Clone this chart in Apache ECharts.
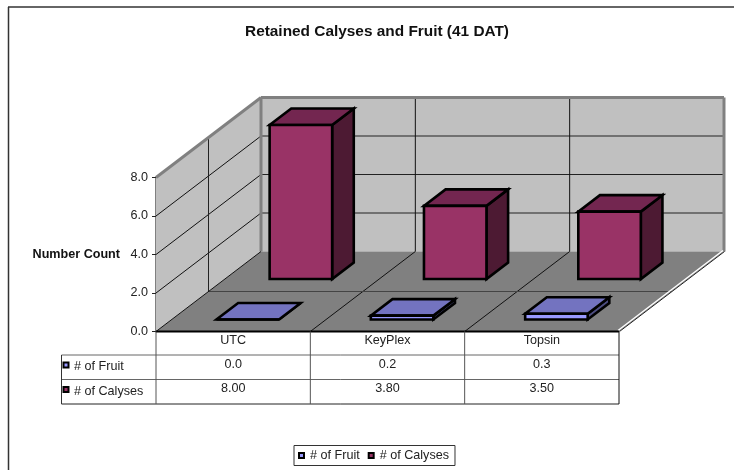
<!DOCTYPE html>
<html>
<head>
<meta charset="utf-8">
<title>Retained Calyses and Fruit</title>
<script src="https://cdn.jsdelivr.net/npm/echarts@6/dist/echarts.min.js"></script>
<style>
  html, body { margin: 0; padding: 0; background: #fff; }
  #main { width: 734px; height: 470px; }
</style>
</head>
<body>
<div id="main"></div>
<script>
const categories = ['UTC', 'KeyPlex', 'Topsin'];
const fruitCounts = [0.0, 0.2, 0.3];
const calyxCounts = [8.0, 3.8, 3.5];
const fruitLabels = ['0.0', '0.2', '0.3'];
const calyxLabels = ['8.00', '3.80', '3.50'];
const fruitName = '# of Fruit';
const calyxName = '# of Calyses';
const yTicks = [0, 2, 4, 6, 8];

const FONT = '"Liberation Sans", Arial, sans-serif';
const TEXT_SIZE = 12.6;
const DEPTH_X = 105;
const DEPTH_Y = -80;

// front plane comes from the axes, depth is a fixed oblique shift
const project = (api, x, y, d) => {
  const p = api.coord([x, y]);
  return [p[0] + d * DEPTH_X, p[1] + d * DEPTH_Y];
};

const poly = (points, fill, z2, stroke, lineWidth) => ({
  type: 'polygon',
  z2: z2,
  shape: { points: points },
  style: { fill: fill, stroke: stroke || null, lineWidth: lineWidth || 0, lineJoin: 'miter' }
});

const line = (a, b, stroke, lineWidth, z2) => ({
  type: 'line',
  z2: z2,
  shape: { x1: a[0], y1: a[1], x2: b[0], y2: b[1] },
  style: { stroke: stroke, lineWidth: lineWidth }
});

const label = (text, x, y, align) => ({
  type: 'text',
  z2: 20,
  style: { text: text, x: x, y: y, align: align || 'center', verticalAlign: 'middle', font: TEXT_SIZE + 'px ' + FONT, fill: '#222' }
});

// walls, floor and gridlines
const renderChamber = (params, api) => {
  const xMax = categories.length;
  const yMax = yTicks[yTicks.length - 1];
  const P = (x, y, d) => project(api, x, y, d);
  const kids = [
    poly([P(0, 0, 0), P(0, yMax, 0), P(0, yMax, 1), P(0, 0, 1)], '#c0c0c0', 1),
    poly([P(0, 0, 1), P(0, yMax, 1), P(xMax, yMax, 1), P(xMax, 0, 1)], '#c0c0c0', 1),
    poly([P(0, 0, 0), P(0, 0, 1), P(xMax, 0, 1), P(xMax, 0, 0)], '#808080', 2)
  ];
  yTicks.slice(1, -1).forEach(v => {
    kids.push(line(P(0, v, 0), P(0, v, 1), '#111', 1, 3));
    kids.push(line(P(0, v, 1), P(xMax, v, 1), '#222', 1, 3));
  });
  for (let i = 1; i < xMax; i++) {
    kids.push(line(P(i, 0, 1), P(i, yMax, 1), '#111', 1, 3));
    kids.push(line(P(i, 0, 0), P(i, 0, 1), '#111', 1, 3));
  }
  // mid depth lines between the two rows
  kids.push(line(P(0, 0, 0.5), P(0, yMax, 0.5), '#222', 1, 3));
  kids.push(line(P(0, 0, 0.5), P(xMax, 0, 0.5), '#444', 1, 3));
  // wall edges
  kids.push(line(P(0, yMax, 0), P(0, yMax, 1), '#808080', 3, 4));
  kids.push(line(P(0, yMax, 1), P(xMax, yMax, 1), '#808080', 3, 4));
  kids.push(line(P(xMax, yMax, 1), P(xMax, 0, 1), '#808080', 3, 4));
  kids.push(line(P(0, 0, 1), P(0, yMax, 1), '#808080', 3, 4));
  kids.push(line(P(0, 0, 0), P(0, 0, 1), '#111', 1, 5));
  const r0 = P(xMax, 0, 0);
  const r1 = P(xMax, 0, 1);
  kids.push(line([r0[0] - 1, r0[1] - 1], [r1[0] - 1, r1[1] - 1], '#fff', 1.5, 5));
  kids.push(line([r0[0] + 0.5, r0[1]], [r1[0] + 0.5, r1[1]], '#222', 1, 5));
  return { type: 'group', children: kids };
};

// one oblique box, d0..d1 is the row it stands in
const boxRenderer = (d0, d1, front, top, side) => (params, api) => {
  const i = api.value(0);
  const v = api.value(1);
  const x0 = i + 0.29;
  const x1 = i + 0.695;
  const P = (x, y, d) => project(api, x, y, d);
  const edge = '#000';
  const w = 2.6;
  return {
    type: 'group',
    children: [
      poly([P(x1, 0, d0), P(x1, v, d0), P(x1, v, d1), P(x1, 0, d1)], side, 1, edge, w),
      poly([P(x0, v, d0), P(x1, v, d0), P(x1, v, d1), P(x0, v, d1)], top, 2, edge, w),
      poly([P(x0, 0, d0), P(x1, 0, d0), P(x1, v, d0), P(x0, v, d0)], front, 3, edge, w)
    ]
  };
};

// data table under the floor
const renderTable = (params, api) => {
  const xMax = categories.length;
  const x = i => api.coord([i, 0])[0];
  const top = api.coord([0, 0])[1];
  const rowY = [top, top + 23.5, top + 48, top + 72.5];
  const left = 61.5;
  const kids = [];
  kids.push(line([x(0), rowY[0]], [x(xMax), rowY[0]], '#000', 2, 6));
  rowY.slice(1).forEach(y => {
    kids.push(line([left, y], [x(xMax), y], y === rowY[3] ? '#222' : '#666', 1, 6));
  });
  kids.push(line([left, rowY[1]], [left, rowY[3]], '#333', 1, 6));
  for (let i = 0; i <= xMax; i++) {
    kids.push(line([x(i), rowY[0]], [x(i), rowY[3]], i === xMax ? '#111' : '#555', 1, 6));
  }
  categories.forEach((c, i) => {
    const cx = api.coord([i + 0.5, 0])[0];
    kids.push(label(c, cx, rowY[0] + 9));
    kids.push(label(fruitLabels[i], cx, rowY[1] + 10));
    kids.push(label(calyxLabels[i], cx, rowY[2] + 9.5));
  });
  kids.push(label(fruitName, 74, rowY[1] + 12, 'left'));
  kids.push(label(calyxName, 74, rowY[2] + 12, 'left'));
  [[fruitName, '#9999ff', 1], [calyxName, '#993366', 2]].forEach(r => {
    kids.push({
      type: 'rect',
      z2: 7,
      shape: { x: 63.5, y: rowY[r[2]] + 7.5, width: 5, height: 5 },
      style: { fill: r[1], stroke: '#000', lineWidth: 2 }
    });
  });
  return { type: 'group', children: kids };
};

const chart = echarts.init(document.getElementById('main'));
const option = {
  animation: false,
  backgroundColor: '#fff',
  textStyle: { fontFamily: FONT },
  title: {
    text: 'Retained Calyses and Fruit (41 DAT)',
    left: 372,
    top: 19,
    textAlign: 'center',
    textStyle: { fontSize: 15.4, fontWeight: 'bold', color: '#111', fontFamily: FONT }
  },
  grid: { left: 156, right: 115, top: 177.5, bottom: 138.5, outerBoundsMode: 'none' },
  xAxis: { type: 'value', min: 0, max: categories.length, show: false },
  yAxis: {
    type: 'value',
    min: 0,
    max: 8,
    interval: 2,
    splitLine: { show: false },
    axisLine: { show: true, lineStyle: { color: '#808080', width: 2 } },
    axisTick: { show: true, length: 4, lineStyle: { color: '#222', width: 1 } },
    axisLabel: {
      color: '#222',
      fontSize: TEXT_SIZE,
      fontFamily: FONT,
      margin: 8,
      padding: [0, 0, 5, 0],
      formatter: v => v.toFixed(1)
    },
    name: 'Number Count',
    nameLocation: 'middle',
    nameRotate: 0,
    nameGap: 36,
    nameTextStyle: { color: '#111', fontSize: TEXT_SIZE, fontWeight: 'bold', fontFamily: FONT, padding: [0, 0, 3, 0] }
  },
  legend: {
    left: 294,
    top: 445.5,
    orient: 'horizontal',
    padding: [3.5, 6, 3.5, 4],
    itemGap: 8,
    itemWidth: 5,
    itemHeight: 5,
    borderColor: '#333',
    borderWidth: 1,
    icon: 'rect',
    data: [fruitName, calyxName],
    textStyle: { color: '#222', fontSize: TEXT_SIZE, fontFamily: FONT, padding: [0, 0, 0, 1] },
    itemStyle: { borderColor: '#000', borderWidth: 2 }
  },
  series: [
    {
      type: 'custom',
      name: 'chamber',
      z: 1,
      silent: true,
      renderItem: renderChamber,
      data: [[0, 0]]
    },
    {
      type: 'custom',
      name: calyxName,
      z: 3,
      itemStyle: { color: '#993366' },
      renderItem: boxRenderer(0.656, 0.862, '#993366', '#732650', '#4d1a33'),
      data: calyxCounts.map((v, i) => [i, v])
    },
    {
      type: 'custom',
      name: fruitName,
      z: 4,
      itemStyle: { color: '#9999ff' },
      renderItem: boxRenderer(0.15, 0.356, '#9999ff', '#7373c0', '#4d4d80'),
      data: fruitCounts.map((v, i) => [i, v])
    },
    {
      type: 'custom',
      name: 'table',
      z: 5,
      silent: true,
      renderItem: renderTable,
      data: [[0, 0]]
    }
  ],
  graphic: [
    { type: 'line', z: 10, shape: { x1: 8.5, y1: 7, x2: 8.5, y2: 470 }, style: { stroke: '#333', lineWidth: 1.5 } },
    { type: 'line', z: 10, shape: { x1: 8, y1: 7, x2: 734, y2: 7 }, style: { stroke: '#333', lineWidth: 1.5 } }
  ]
};
chart.setOption(option);
window.addEventListener('resize', () => {
  chart.resize();
});
</script>
</body>
</html>
